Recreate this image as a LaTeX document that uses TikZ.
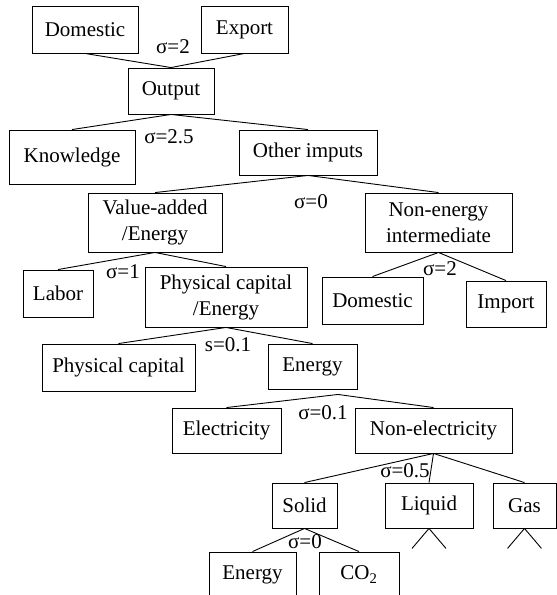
\documentclass[tikz,border=0pt]{standalone}
\usepackage{fontspec}
\setmainfont{Liberation Serif}
\usepackage{tikz}
\usetikzlibrary{positioning,calc}

\tikzset{
  nestbox/.style={draw, line width=0.9pt, inner sep=0pt, align=center,
    font=\fontsize{21}{26}\selectfont},
  elast/.style={inner sep=0pt, font=\fontsize{21}{26}\selectfont}
}

\begin{document}
\begin{tikzpicture}[x=1pt,y=-1pt,line width=0.9pt]
\useasboundingbox (0,0) rectangle (557,595);
\clip (0,0) rectangle (557,595);
% top level
\node[nestbox, minimum width=106, minimum height=47] (dom) at (85,29.5) {Domestic};
\node[nestbox, minimum width=87, minimum height=47] (exp) at (244.5,29.5) {Export};
\node[nestbox, minimum width=86, minimum height=46] (out) at (171,91) {Output};
\node[nestbox, minimum width=126, minimum height=54] (know) at (72,157) {Knowledge};
\node[nestbox, minimum width=138, minimum height=45] (oth) at (308,152.5) {Other imputs};
% inputs
\node[nestbox, minimum width=134, minimum height=59] (va) at (155,222.5) {Value-added\\/Energy};
\node[nestbox, minimum width=147, minimum height=59] (ne) at (438.5,222.5) {Non-energy\\intermediate};
\node[nestbox, minimum width=70, minimum height=47] (lab) at (58,293.5) {Labor};
\node[nestbox, minimum width=162, minimum height=60] (pce) at (226,297) {Physical capital\\/Energy};
\node[nestbox, minimum width=101, minimum height=47] (dom2) at (372.5,300.5) {Domestic};
\node[nestbox, minimum width=80, minimum height=46] (imp) at (506,304) {Import};
\node[nestbox, minimum width=153, minimum height=47] (pc) at (118.5,367.5) {Physical capital};
\node[nestbox, minimum width=89, minimum height=45] (en) at (312.5,366.5) {Energy};
% energy
\node[nestbox, minimum width=109, minimum height=45] (ele) at (226.5,430.5) {Electricity};
\node[nestbox, minimum width=157, minimum height=45] (nel) at (433.5,430.5) {Non-electricity};
\node[nestbox, minimum width=65, minimum height=45] (sol) at (304.5,505.5) {Solid};
\node[nestbox, minimum width=88, minimum height=45] (liq) at (429,505.5) {Liquid};
\node[nestbox, minimum width=63, minimum height=45] (gas) at (524.5,505.5) {Gas};
\node[nestbox, minimum width=87, minimum height=45] (en2) at (252.5,574.5) {Energy};
\node[nestbox, minimum width=80, minimum height=45] (co2) at (359,574.5) {CO\textsubscript{2}};

\coordinate (enj) at ($(en.south)+(25.5,5)$);

% connectors
\foreach \a/\b in {dom/out,exp/out,out/know,out/oth,oth/va,oth/ne,va/lab,va/pce,
    ne/dom2,ne/imp,pce/pc,pce/en,nel/sol,nel/liq,nel/gas,sol/en2,sol/co2}
  \draw (\a.south) -- (\b.north);
\draw (enj) -- (ele.north);
\draw (enj) -- (nel.north);
\draw (liq.south) -- +(-17,20) (liq.south) -- +(17,20);
\draw (gas.south) -- +(-17,20) (gas.south) -- +(17,20);

% elasticities
\node[elast] (e1) at (173,47) {σ=2};
\node[elast] (e2) at (169,137) {σ=2.5};
\node[elast] (e3) at (311,202) {σ=0};
\node[elast] (e4) at (123,272) {σ=1};
\node[elast] (e5) at (440,269) {σ=2};
\node[elast] (e6) at (228,345) {s=0.1};
\node[elast] (e7) at (323,413) {σ=0.1};
\node[elast] (e8) at (405,471) {σ=0.5};
\node[elast] (e9) at (305,542) {σ=0};
\end{tikzpicture}
\end{document}
